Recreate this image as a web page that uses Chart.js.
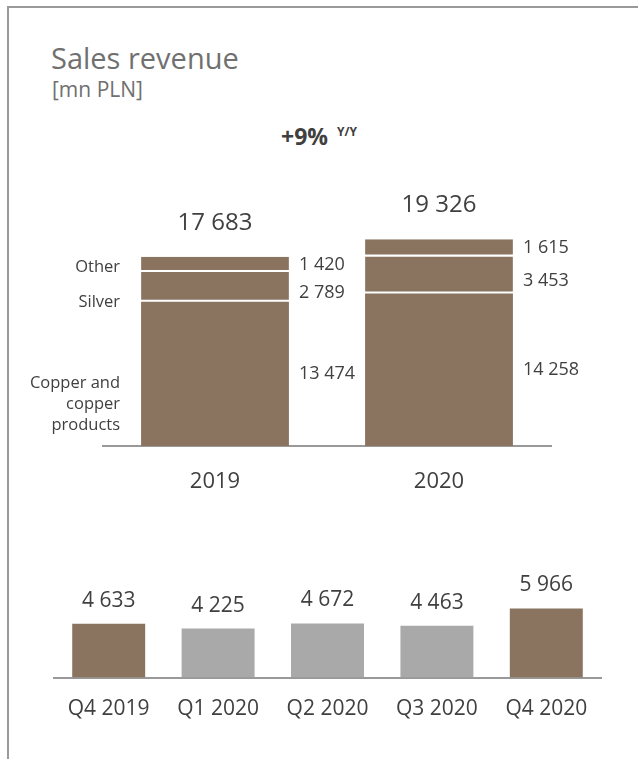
<!DOCTYPE html>
<html>
<head>
<meta charset="utf-8">
<script src="https://cdn.jsdelivr.net/npm/chart.js@4.4.1/dist/chart.umd.min.js"></script>
<style>
  body { margin: 0; background: #fff; font-family: "Open Sans", sans-serif; }
  #frame { position: relative; width: 638px; height: 759px; overflow: hidden; }
  #frame .lineTop { position: absolute; left: 8px; top: 6px; width: 630px; height: 2px; background: #9a9a9a; }
  #frame .lineLeft { position: absolute; left: 7px; top: 6px; width: 2px; height: 753px; background: #9a9a9a; }
  .txt { position: absolute; white-space: nowrap; line-height: 1; }
  #title { left: 51px; top: 43px; font-size: 29px; color: #707070; }
  #unit { left: 52px; top: 79px; font-size: 21px; color: #707070; }
  #growth { left: 281px; top: 125px; font-size: 23px; font-weight: 700; color: #404040; }
  #growthSup { left: 337px; top: 126px; font-size: 12px; font-weight: 700; color: #404040; }
  canvas { position: absolute; left: 0; }
  #yearChart { top: 0; }
  #quarterChart { top: 540px; }
</style>
</head>
<body>
<div id="frame">
  <div class="lineTop"></div>
  <div class="lineLeft"></div>
  <div class="txt" id="title">Sales revenue</div>
  <div class="txt" id="unit">[mn PLN]</div>
  <div class="txt" id="growth">+9%</div>
  <div class="txt" id="growthSup">Y/Y</div>
  <canvas id="yearChart" width="638" height="520"></canvas>
  <canvas id="quarterChart" width="638" height="219"></canvas>
</div>
<script>
const BROWN = "#8a7460";
const GREY = "#a9a9a9";
const TEXT = "#404040";

const yearLabels = ["2019", "2020"];
const copperValues = [13474, 14258];
const silverValues = [2789, 3453];
const otherValues = [1420, 1615];
const totalValues = [17683, 19326];
const segmentNames = [["Copper and", "copper", "products"], ["Silver"], ["Other"]];

const quarterLabels = ["Q4 2019", "Q1 2020", "Q2 2020", "Q3 2020", "Q4 2020"];
const quarterValues = [4633, 4225, 4672, 4463, 5966];
const quarterColors = [BROWN, GREY, GREY, GREY, BROWN];

function fmt(n) {
  return String(n).replace(/\B(?=(\d{3})+(?!\d))/g, " ");
}

// totals above bars, segment values to the right, names to the left of first bar
const yearLabelPlugin = {
  id: "yearLabels",
  afterDatasetsDraw(chart) {
    const ctx = chart.ctx;
    const y = chart.scales.y;
    ctx.save();
    ctx.fillStyle = TEXT;
    ctx.textBaseline = "middle";

    const topMeta = chart.getDatasetMeta(2);
    topMeta.data.forEach((bar, i) => {
      ctx.font = "24px 'Open Sans'";
      ctx.textAlign = "center";
      ctx.fillText(fmt(totalValues[i]), bar.x, y.getPixelForValue(totalValues[i]) - 34);
    });

    const shifts = [0, 6, 0];
    chart.data.datasets.forEach((ds, d) => {
      const meta = chart.getDatasetMeta(d);
      meta.data.forEach((bar, i) => {
        const mid = (bar.y + bar.base) / 2;
        ctx.font = "18px 'Open Sans'";
        ctx.textAlign = "left";
        ctx.fillText(fmt(ds.data[i]), bar.x + bar.width / 2 + 10, mid + shifts[d]);
      });
    });

    const nameShifts = [30, 15, 3];
    ctx.font = "16.5px 'Open Sans'";
    ctx.textAlign = "right";
    chart.data.datasets.forEach((ds, d) => {
      const bar = chart.getDatasetMeta(d).data[0];
      const mid = (bar.y + bar.base) / 2 + nameShifts[d];
      const lines = segmentNames[d];
      lines.forEach((line, k) => {
        ctx.fillText(line, bar.x - bar.width / 2 - 21, mid + (k - (lines.length - 1) / 2) * 21);
      });
    });
    ctx.restore();
  },
};

const quarterLabelPlugin = {
  id: "quarterLabels",
  afterDatasetsDraw(chart) {
    const ctx = chart.ctx;
    ctx.save();
    ctx.fillStyle = TEXT;
    ctx.font = "21px 'Open Sans'";
    ctx.textAlign = "center";
    ctx.textBaseline = "middle";
    chart.getDatasetMeta(0).data.forEach((bar, i) => {
      ctx.fillText(fmt(quarterValues[i]), bar.x, bar.y - 23);
    });
    ctx.restore();
  },
};

new Chart(document.getElementById("yearChart"), {
  type: "bar",
  data: {
    labels: yearLabels,
    datasets: [
      { label: "Copper", data: copperValues, backgroundColor: BROWN, borderWidth: 0 },
      { label: "Silver", data: silverValues, backgroundColor: BROWN, borderColor: "#fff", borderWidth: { bottom: 2 }, borderSkipped: false },
      { label: "Other", data: otherValues, backgroundColor: BROWN, borderColor: "#fff", borderWidth: { bottom: 2 }, borderSkipped: false },
    ],
  },
  options: {
    responsive: false,
    animation: false,
    devicePixelRatio: 1,
    layout: { padding: { left: 103, right: 87, top: 232, bottom: 1.6 } },
    datasets: { bar: { barPercentage: 0.66, categoryPercentage: 1 } },
    plugins: { legend: { display: false }, tooltip: { enabled: false } },
    scales: {
      x: {
        stacked: true,
        grid: { display: false, drawTicks: false },
        border: { display: true, color: "#999", width: 2 },
        ticks: { color: TEXT, font: { family: "Open Sans", size: 22 }, padding: 23 },
      },
      y: { stacked: true, display: false, min: 0, max: 20000 },
    },
  },
  plugins: [yearLabelPlugin],
});

new Chart(document.getElementById("quarterChart"), {
  type: "bar",
  data: {
    labels: quarterLabels,
    datasets: [{ label: "Revenue", data: quarterValues, backgroundColor: quarterColors, borderWidth: 0 }],
  },
  options: {
    responsive: false,
    animation: false,
    devicePixelRatio: 1,
    layout: { padding: { left: 54, right: 37, top: 68, bottom: 19.4 } },
    datasets: { bar: { barPercentage: 0.667, categoryPercentage: 1 } },
    plugins: { legend: { display: false }, tooltip: { enabled: false } },
    scales: {
      x: {
        grid: { display: false, drawTicks: false },
        border: { display: true, color: "#999", width: 2 },
        ticks: { color: TEXT, font: { family: "Open Sans", size: 21 }, padding: 18.4 },
      },
      y: { display: false, min: 0, max: 6000 },
    },
  },
  plugins: [quarterLabelPlugin],
});
</script>
</body>
</html>
